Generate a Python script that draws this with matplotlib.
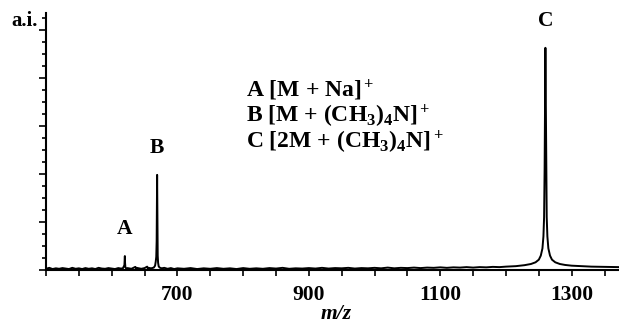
import matplotlib
matplotlib.use("Agg")
import matplotlib.pyplot as plt
from matplotlib.ticker import FixedLocator, MultipleLocator

# ------------------------------------------------------------
# data (m/z, relative intensity)
# ------------------------------------------------------------
mz = [500, 505, 510, 515, 520, 525, 530, 535, 540, 545, 550, 555, 560, 565,
      570, 575, 580, 585, 590, 595, 600, 605, 610, 614,
      617, 619.3, 619.7, 620, 620.3, 620.8, 622, 624, 630, 636, 637, 638,
      645, 650, 654, 655, 656, 660, 664, 666, 667, 667.8, 668.4, 668.8,
      669.1, 669.5, 670, 670.6, 671.5, 673, 676, 680, 685, 690, 695, 700,
      710, 720, 730, 740, 750, 760, 770, 780, 790, 800, 810, 820, 830, 840,
      850, 860, 870, 880, 890, 900, 910, 920, 930, 940, 950, 960, 970, 980,
      990, 1000, 1010, 1020, 1030, 1040, 1050, 1060, 1070, 1080, 1090, 1100,
      1110, 1120, 1130, 1140, 1150, 1160, 1170, 1180, 1190, 1200, 1215,
      1228, 1238, 1245, 1250, 1253, 1255.5, 1257, 1258, 1258.8, 1259.5,
      1260, 1260.5, 1261.2, 1262, 1263, 1264.5, 1267, 1270, 1275, 1282,
      1290, 1300, 1315, 1330, 1350, 1372]
intensity = [0.5, 0.9, 0.4, 0.7, 0.5, 0.8, 0.6, 0.4, 0.9, 0.5, 0.7, 0.4, 0.8, 0.5,
             0.7, 0.4, 0.9, 0.6, 0.5, 0.8, 0.6, 0.4, 0.8, 0.6,
             0.7, 2.0, 4.5, 5.8, 3.0, 1.2, 0.6, 0.8, 0.5, 1.3, 0.6, 0.9,
             0.5, 0.8, 1.4, 0.6, 0.9, 0.7, 1.0, 1.8, 3.5, 5.5, 12.0, 30.0,
             39.6, 22.0, 6.0, 3.0, 1.5, 1.0, 0.7, 0.9, 0.5, 0.8, 0.4, 0.7,
             0.5, 0.8, 0.4, 0.7, 0.5, 0.8, 0.5, 0.7, 0.4, 0.8, 0.5, 0.7, 0.5,
             0.8, 0.6, 0.9, 0.5, 0.7, 0.6, 0.8, 0.6, 0.9, 0.6, 0.8, 0.7, 0.9,
             0.6, 0.8, 0.7, 0.9, 0.7, 1.0, 0.7, 0.9, 0.8, 1.0, 0.8, 1.0, 0.9,
             1.1, 0.9, 1.1, 1.0, 1.2, 1.0, 1.2, 1.1, 1.3, 1.2, 1.4, 1.6,
             2.0, 2.5, 3.2, 4.3, 6.0, 9.0, 14.0, 22.0, 42.0, 72.0,
             92.5, 74.0, 42.0, 22.0, 14.0, 9.0, 6.0, 4.3, 3.2, 2.5,
             2.1, 1.8, 1.6, 1.4, 1.3, 1.2]

peak_names = ["A", "B", "C"]
peak_mz = [620, 669.1, 1260]
peak_height = [5.8, 39.6, 92.5]

legend_lines = [r"A [M + Na]$^+$",
                r"B [M + (CH$_3$)$_4$N]$^+$",
                r"C [2M + (CH$_3$)$_4$N]$^+$"]

xticks_major = [700, 900, 1100, 1300]

# ------------------------------------------------------------
# style
# ------------------------------------------------------------
plt.rcParams["font.family"] = "Liberation Serif"
plt.rcParams["font.weight"] = "bold"
plt.rcParams["mathtext.fontset"] = "custom"
plt.rcParams["mathtext.rm"] = "Liberation Serif:bold"
plt.rcParams["mathtext.it"] = "Liberation Serif:italic:bold"
plt.rcParams["mathtext.bf"] = "Liberation Serif:bold"

fig = plt.figure(figsize=(6.19, 3.29), dpi=100)
ax = fig.add_axes([46 / 619, 59 / 329, 1 - 46 / 619, 257 / 329])

ax.plot(mz, intensity, color="black", lw=1.4)

ax.set_xlim(500, 1372)
ax.set_ylim(0, 107)

for s in ["top", "right"]:
    ax.spines[s].set_visible(False)
for s in ["left", "bottom"]:
    ax.spines[s].set_linewidth(1.5)

ax.xaxis.set_major_locator(FixedLocator(xticks_major))
ax.xaxis.set_minor_locator(MultipleLocator(50))
ax.yaxis.set_major_locator(MultipleLocator(20))
ax.yaxis.set_minor_locator(MultipleLocator(5))
ax.set_yticklabels([])
ax.tick_params(axis="x", which="both", direction="out", length=4, width=1.2,
               labelsize=15.5, pad=7)
ax.tick_params(axis="y", which="major", direction="out", length=5, width=1.2)
ax.tick_params(axis="y", which="minor", direction="out", length=3, width=1.2)
for lab in ax.get_xticklabels():
    lab.set_fontweight("bold")

# peak letters
for name, x, h in zip(peak_names, peak_mz, peak_height):
    ax.annotate(name, (x, h), xytext=(0, 12), textcoords="offset points",
                ha="center", va="bottom", fontsize=15.5, fontweight="bold")

# legend text block
for i, line in enumerate(legend_lines):
    fig.text(246 / 619, 1 - (90 + 26 * i) / 329, line, ha="left", va="center",
             fontsize=17, fontweight="bold")

fig.text(11 / 619, 1 - 21 / 329, "a.i.", ha="left", va="center",
         fontsize=15, fontweight="bold")
fig.text(336 / 619, 1 - 314 / 329, "m/z", ha="center", va="center",
         fontsize=15.5, fontweight="bold", style="italic")

fig.savefig("out.png", dpi=100)
